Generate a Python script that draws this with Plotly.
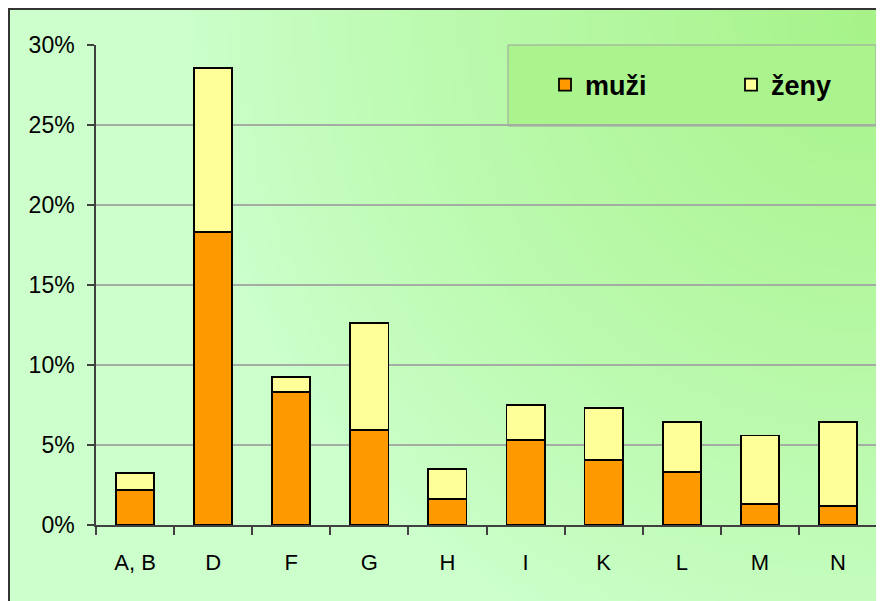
import base64, struct, zlib
import numpy as np
import plotly.graph_objects as go

# ---- data ----
categories = ["A, B", "D", "F", "G", "H", "I", "K", "L", "M", "N"]
muzi = [2.2, 18.3, 8.3, 5.95, 1.63, 5.3, 4.06, 3.31, 1.31, 1.19]
zeny = [1.03, 10.28, 0.95, 6.68, 1.87, 2.2, 3.27, 3.13, 4.29, 5.25]
y_ticks = [0, 5, 10, 15, 20, 25, 30]
y_tick_labels = ["0%", "5%", "10%", "15%", "20%", "25%", "30%"]

# ---- geometry (page has an 8px body margin) ----
OFF = 8
W, H = 884 - OFF, 601 - OFF
# plot area in page pixels: x 96..877, y 45..525
ml = 96 - OFF
mt = 45 - OFF
mr = W - (877 - OFF)
mb = H - (525 - OFF)
pw, ph = W - ml - mr, H - mt - mb


def px2x(px):
    return (px - OFF - ml) / pw


def py2y(py):
    return (H - mb - (py - OFF)) / ph


# ---- gradient background image (generated PNG) ----
def make_png(arr):
    h, w, _ = arr.shape
    raw = b"".join(b"\x00" + arr[j].astype(np.uint8).tobytes() for j in range(h))

    def chunk(tag, data):
        c = struct.pack(">I", len(data)) + tag + data
        return c + struct.pack(">I", zlib.crc32(tag + data) & 0xFFFFFFFF)

    png = b"\x89PNG\r\n\x1a\n"
    png += chunk(b"IHDR", struct.pack(">IIBBBBB", w, h, 8, 2, 0, 0, 0))
    png += chunk(b"IDAT", zlib.compress(raw, 9))
    png += chunk(b"IEND", b"")
    return "data:image/png;base64," + base64.b64encode(png).decode()


bx0, by0, bx1, by1 = 9, 9, 884, 601
iw, ih = 175, 120
ii, jj = np.meshgrid(np.arange(iw), np.arange(ih))
gx = bx0 + (ii + 0.5) * (bx1 - bx0) / iw
gy = by0 + (jj + 0.5) * (by1 - by0) / ih
d = np.hypot(gx - 884, gy - 9)
t = np.clip(1 - d / 700, 0, 1) ** 0.85
light = np.array([204, 255, 204])
sat = np.array([166, 243, 136])
img = light[None, None, :] + (sat - light)[None, None, :] * t[..., None]
img_uri = make_png(np.round(img))

font_family = "Liberation Sans, Arial, sans-serif"

fig = go.Figure()
fig.add_trace(go.Bar(
    x=categories, y=muzi, name="muži", legendwidth=141,
    marker=dict(color="#FF9900", line=dict(color="#000000", width=1.8)),
))
fig.add_trace(go.Bar(
    x=categories, y=zeny, name="ženy", legendwidth=70,
    marker=dict(color="#FFFF99", line=dict(color="#000000", width=1.8)),
))

fig.update_layout(
    width=W, height=H,
    margin=dict(l=ml, r=mr, t=mt, b=mb, pad=0),
    barmode="stack",
    bargap=0.51,
    paper_bgcolor="white",
    plot_bgcolor="rgba(0,0,0,0)",
    font=dict(family=font_family, color="black", size=22),
    showlegend=True,
    legend=dict(
        orientation="h",
        x=px2x(585 - 40), xanchor="left",
        y=py2y(85), yanchor="middle",
        bgcolor="rgba(0,0,0,0)",
        font=dict(family=font_family, size=27, color="black", weight="bold"),
        entrywidthmode="pixels",
        traceorder="normal",
    ),
    xaxis=dict(
        type="category",
        showgrid=False,
        showline=True, linecolor="#404040", linewidth=1.5,
        ticks="outside", ticklen=8, tickwidth=1.5, tickcolor="#404040",
        tickson="boundaries",
        ticklabelstandoff=17,
        tickfont=dict(size=22),
        range=[-0.5, 9.5],
    ),
    yaxis=dict(
        range=[0, 30],
        tickvals=y_ticks, ticktext=y_tick_labels,
        showgrid=True, gridcolor="#a4ada4", gridwidth=1.5,
        showline=True, linecolor="#404040", linewidth=1.5,
        ticks="outside", ticklen=7, tickwidth=1.5, tickcolor="#404040",
        ticklabelstandoff=8,
        tickfont=dict(size=23),
        zeroline=False,
    ),
    images=[dict(
        source=img_uri, xref="paper", yref="paper",
        x=px2x(bx0), y=py2y(by0),
        sizex=(bx1 - bx0) / pw, sizey=(by1 - by0) / ph,
        xanchor="left", yanchor="top", sizing="stretch", layer="below",
    )],
    shapes=[
        # legend box
        dict(type="rect", xref="paper", yref="paper", layer="below",
             x0=px2x(508), x1=px2x(876), y0=py2y(126), y1=py2y(45),
             fillcolor="#abf48d", line=dict(color="#a0a0a0", width=1)),
        # plot area right border
        dict(type="line", xref="paper", yref="paper",
             x0=1, x1=1, y0=0, y1=1, line=dict(color="#a0a0a0", width=1.5)),
        # outer chart border
        dict(type="rect", xref="paper", yref="paper",
             x0=px2x(9), x1=px2x(900), y0=py2y(9), y1=py2y(620),
             line=dict(color="#333333", width=2), fillcolor="rgba(0,0,0,0)"),
    ],
)

fig.write_html("out.html")
